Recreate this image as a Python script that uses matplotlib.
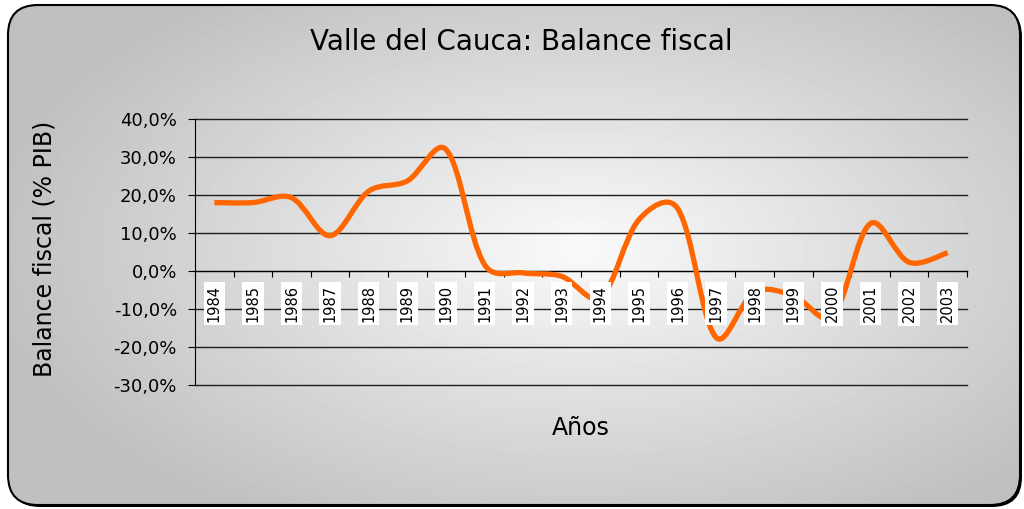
import numpy as np
import matplotlib
matplotlib.use('Agg')
import matplotlib.pyplot as plt
from matplotlib.patches import FancyBboxPatch, PathPatch
from matplotlib.path import Path

years = list(range(1984, 2004))
balance = [18.0, 18.0, 19.3, 9.3, 21.0, 23.7, 32.0, 1.7, -0.5, -1.4,
           -7.0, 13.5, 16.5, -17.5, -5.5, -6.5, -12.0, 12.5, 2.3, 4.8]
y_ticks = [-30, -20, -10, 0, 10, 20, 30, 40]

title = "Valle del Cauca: Balance fiscal"
y_title = "Balance fiscal (% PIB)"
x_title = "Años"


def smooth_path(x, y, sx, sy):
    # smoothed line: cubic bezier through every point, arm length a mix of
    # plain catmull-rom and screen segment length (sx, sy = px per unit)
    x = np.asarray(x, float)
    y = np.asarray(y, float)
    n = len(x)
    px, py = x * sx, y * sy
    seg = np.hypot(np.diff(px), np.diff(py))
    left = [None] * n
    right = [None] * n
    for i in range(n):
        a = max(i - 1, 0)
        b = min(i + 1, n - 1)
        tx, ty = px[b] - px[a], py[b] - py[a]
        if i == 0 or i == n - 1:
            fl = fr = 1 / 6
        else:
            tot = seg[i - 1] + seg[i]
            fl = 0.5 / 6 + 0.5 * seg[i - 1] / tot / 3
            fr = 0.5 / 6 + 0.5 * seg[i] / tot / 3
        left[i] = ((px[i] - tx * fl) / sx, (py[i] - ty * fl) / sy)
        right[i] = ((px[i] + tx * fr) / sx, (py[i] + ty * fr) / sy)
    verts = [(x[0], y[0])]
    codes = [Path.MOVETO]
    for i in range(n - 1):
        verts += [right[i], left[i + 1], (x[i + 1], y[i + 1])]
        codes += [Path.CURVE4] * 3
    return Path(verts, codes)


def main():
    plt.rcParams['font.family'] = ['DejaVu Sans']
    W, H = 1024, 509
    fig = plt.figure(figsize=(W / 100, H / 100), dpi=100)
    fig.patch.set_facecolor('white')

    # background panel with radial gradient
    bg = fig.add_axes([0, 0, 1, 1])
    bg.set_xlim(0, W)
    bg.set_ylim(0, H)
    bg.axis('off')
    yy, xx = np.mgrid[0:H, 0:W]
    r = np.sqrt(((xx - 580) / 600.0) ** 2 + ((yy - (H - 250)) / 320.0) ** 2)
    val = 0.98 - 0.23 * np.clip(r, 0, 1)
    shadow = FancyBboxPatch((10, 2), 1012, 500, boxstyle='round,pad=0,rounding_size=30',
                            fc='black', ec='none', zorder=0)
    bg.add_patch(shadow)
    box = FancyBboxPatch((8, 4), 1012, 500, boxstyle='round,pad=0,rounding_size=30',
                         fc='none', ec='black', lw=1.5, zorder=2)
    bg.add_patch(box)
    im = bg.imshow(val, cmap='gray', vmin=0, vmax=1, extent=[0, W, 0, H], origin='lower',
                   aspect='auto', interpolation='bilinear', zorder=1)
    im.set_clip_path(box)

    left, right, top, bottom = 195, 967, 119, 385
    ax = fig.add_axes([left / W, 1 - bottom / H, (right - left) / W, (bottom - top) / H])
    ax.set_zorder(1)
    ax.patch.set_visible(False)
    pos = np.arange(len(years))
    ax.set_xlim(-0.5, len(years) - 0.5)
    ax.set_ylim(-30, 40)
    ax.set_yticks(y_ticks)
    ax.set_yticklabels([('%.1f%%' % v).replace('.', ',') for v in y_ticks])
    ax.yaxis.grid(True, color='#1e1e1e', lw=1.0)
    for gl in ax.yaxis.get_gridlines():
        gl.set_clip_on(False)
    ax.set_axisbelow(True)
    for s in ['top', 'right']:
        ax.spines[s].set_visible(False)
    ax.spines['bottom'].set_position(('data', 0))
    ax.spines['bottom'].set_color('black')
    ax.spines['left'].set_color('black')
    ax.set_xticks(np.arange(-0.5, len(years), 1))
    ax.set_xticklabels([])
    ax.tick_params(axis='x', direction='out', length=4, color='black')
    ax.tick_params(axis='y', direction='out', length=5, pad=8, labelsize=13, color='black')

    sx = (right - left) / len(years)
    sy = (bottom - top) / 70.0
    line = PathPatch(smooth_path(pos, balance, sx, sy), transform=ax.transData, fill=False,
                     edgecolor='#FF6600', lw=3.8, joinstyle='round', capstyle='butt', zorder=3)
    ax.add_patch(line)

    for i, yr in enumerate(years):
        ax.annotate(str(yr), xy=(i, 0), xytext=(0, -10), textcoords='offset points',
                    rotation=90, ha='center', va='top', fontsize=10.5,
                    bbox=dict(boxstyle='square,pad=0.22', fc='white', ec='none'), zorder=4)

    fig.text(521 / W, 1 - 42 / H, title, ha='center', va='center', fontsize=20)
    fig.text(45 / W, 1 - 249 / H, y_title, ha='center', va='center', rotation=90, fontsize=17)
    fig.text(581 / W, 1 - 428 / H, x_title, ha='center', va='center', fontsize=17)

    fig.savefig('out.png', dpi=100)
    plt.close(fig)


if __name__ == '__main__':
    main()
